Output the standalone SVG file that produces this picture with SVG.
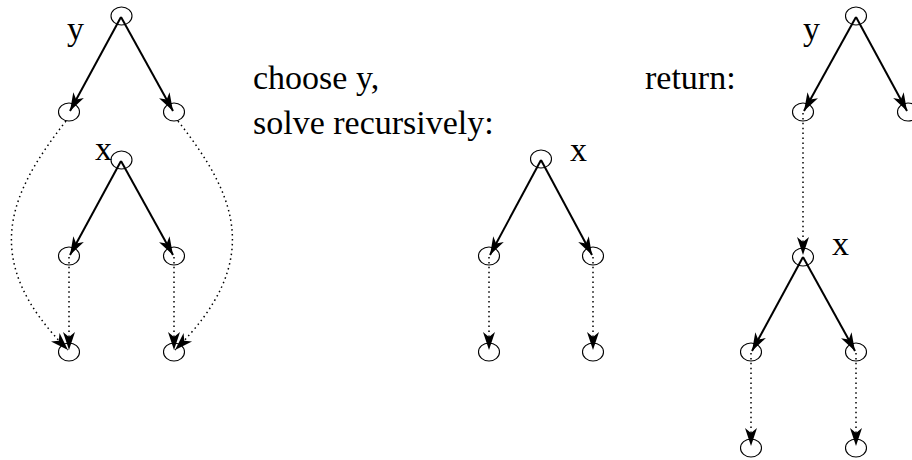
<svg xmlns="http://www.w3.org/2000/svg" width="912" height="460" viewBox="0 0 912 460">
<style>
.n{fill:none;stroke:#000;stroke-width:1.1}
.s{fill:none;stroke:#000;stroke-width:2;marker-end:url(#ah)}
.d{fill:none;stroke:#000;stroke-width:1.5;stroke-dasharray:1.5 3.4;marker-end:url(#ah)}
.t{font-family:'Liberation Serif','DejaVu Serif',serif;font-size:34px;fill:#000}
</style>
<defs>
<marker id="ah" markerUnits="userSpaceOnUse" markerWidth="22" markerHeight="16" viewBox="-20 -8 21 16" refX="0" refY="0" orient="auto">
<path d="M0,0 L-18,-6 L-13,0 L-18,6 Z" fill="#000"/>
</marker>
</defs>
<rect width="912" height="460" fill="#fff"/>
<g id="connectors">
<line class="s" x1="121" y1="17" x2="70" y2="111"/>
<line class="s" x1="121" y1="17" x2="173" y2="111"/>
<line class="s" x1="121" y1="161" x2="70" y2="255"/>
<line class="s" x1="121" y1="161" x2="173" y2="255"/>
<line class="d" x1="69" y1="257" x2="69" y2="350"/>
<line class="d" x1="174" y1="257" x2="174" y2="350"/>
<path class="d" d="M66,121 C8,195 -21,261 68,350"/>
<path class="d" d="M178,121 C236,195 265,261 175,350"/>
<line class="s" x1="541" y1="160" x2="490" y2="255"/>
<line class="s" x1="541" y1="160" x2="592" y2="255"/>
<line class="d" x1="489" y1="257" x2="489" y2="350"/>
<line class="d" x1="593" y1="257" x2="593" y2="350"/>
<line class="s" x1="856" y1="17" x2="804" y2="111"/>
<line class="s" x1="856" y1="17" x2="907" y2="111"/>
<line class="d" x1="803" y1="113" x2="803" y2="255"/>
<line class="s" x1="803" y1="257" x2="752" y2="351"/>
<line class="s" x1="803" y1="257" x2="855" y2="351"/>
<line class="d" x1="751" y1="353" x2="751" y2="446"/>
<line class="d" x1="856" y1="353" x2="856" y2="446"/>
</g>
<g id="left-root"><ellipse class="n" cx="121.5" cy="16" rx="10.5" ry="9"/><text class="t" x="67" y="40">y</text></g>
<g id="left-y-l"><ellipse class="n" cx="69" cy="112" rx="10.5" ry="9"/></g>
<g id="left-y-r"><ellipse class="n" cx="174" cy="112" rx="10.5" ry="9"/></g>
<g id="left-x"><ellipse class="n" cx="121.5" cy="160" rx="10.5" ry="9"/><text class="t" x="95" y="160">x</text></g>
<g id="left-x-l"><ellipse class="n" cx="69" cy="256" rx="10.5" ry="9"/></g>
<g id="left-x-r"><ellipse class="n" cx="174" cy="256" rx="10.5" ry="9"/></g>
<g id="left-b-l"><ellipse class="n" cx="69" cy="352" rx="10.5" ry="9"/></g>
<g id="left-b-r"><ellipse class="n" cx="174" cy="352" rx="10.5" ry="9"/></g>
<g id="labels">
<text class="t" x="253" y="89">choose y,</text>
<text class="t" x="253" y="134">solve recursively:</text>
<text class="t" x="645" y="89">return:</text>
</g>
<g id="mid-x"><ellipse class="n" cx="541" cy="159" rx="10.5" ry="9"/><text class="t" x="570" y="161">x</text></g>
<g id="mid-l"><ellipse class="n" cx="489" cy="256" rx="10.5" ry="9"/></g>
<g id="mid-r"><ellipse class="n" cx="593" cy="256" rx="10.5" ry="9"/></g>
<g id="mid-b-l"><ellipse class="n" cx="489" cy="352" rx="10.5" ry="9"/></g>
<g id="mid-b-r"><ellipse class="n" cx="593" cy="352" rx="10.5" ry="9"/></g>
<g id="right-root"><ellipse class="n" cx="856" cy="16" rx="10.5" ry="9"/><text class="t" x="803" y="40">y</text></g>
<g id="right-y-l"><ellipse class="n" cx="803" cy="112" rx="10.5" ry="9"/></g>
<g id="right-y-r"><ellipse class="n" cx="908" cy="112" rx="10.5" ry="9"/></g>
<g id="right-x"><ellipse class="n" cx="803" cy="257" rx="10.5" ry="9"/><text class="t" x="832" y="255">x</text></g>
<g id="right-x-l"><ellipse class="n" cx="751" cy="352" rx="10.5" ry="9"/></g>
<g id="right-x-r"><ellipse class="n" cx="856" cy="352" rx="10.5" ry="9"/></g>
<g id="right-b-l"><ellipse class="n" cx="751" cy="448" rx="10.5" ry="9"/></g>
<g id="right-b-r"><ellipse class="n" cx="856" cy="448" rx="10.5" ry="9"/></g>
</svg>
